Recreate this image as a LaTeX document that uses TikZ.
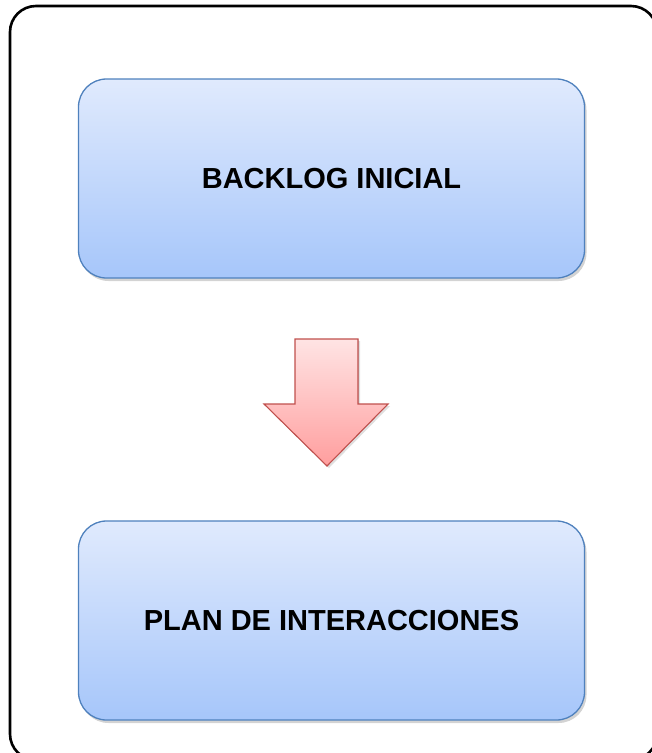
\documentclass[tikz,border=0pt]{standalone}
\usepackage{fontspec}
\setmainfont{Liberation Sans}
\usetikzlibrary{positioning, shadows, calc}
\definecolor{boxline}{HTML}{4F81BD}
\definecolor{boxtop}{HTML}{E0EAFD}
\definecolor{boxbottom}{HTML}{A6C6FA}
\definecolor{arrowline}{HTML}{C0504D}
\definecolor{arrowtop}{HTML}{FFE4E4}
\definecolor{arrowbottom}{HTML}{FF9E9E}
\tikzset{
    frame/.style={draw=black, line width=2.6pt, rounded corners=26pt},
    stage/.style={draw=boxline, line width=1.3pt, rounded corners=28pt,
        top color=boxtop, bottom color=boxbottom,
        minimum width=506pt, minimum height=199pt,
        font=\fontsize{29}{35}\selectfont\bfseries,
        drop shadow={opacity=0.35, shadow xshift=2pt, shadow yshift=-3pt}},
    flow/.style={draw=arrowline, line width=1.1pt, line join=miter,
        top color=arrowtop, bottom color=arrowbottom,
        drop shadow={opacity=0.25, shadow xshift=2pt, shadow yshift=-2pt}},
}

\begin{document}
\begin{tikzpicture}[x=1pt, y=-1pt]
        \useasboundingbox (0,0) rectangle (652,753);
        \begin{scope}
            \clip (0,0) rectangle (652,753);
            \draw[frame] (10,6) rectangle (657,760);
        \end{scope}
        \node[stage] (backlog) at (331.5,178.5) {BACKLOG INICIAL};
        \node[stage] (plan) at (331.5,620.5) {PLAN DE INTERACCIONES};
        % flecha entre etapas
        \coordinate (tip) at (327,466);
        \filldraw[flow] (295,339) -- (358,339) -- (358,404) -- (388,404)
            -- (tip) -- (264,404) -- (295,404) -- cycle;
    \end{tikzpicture}
\end{document}
